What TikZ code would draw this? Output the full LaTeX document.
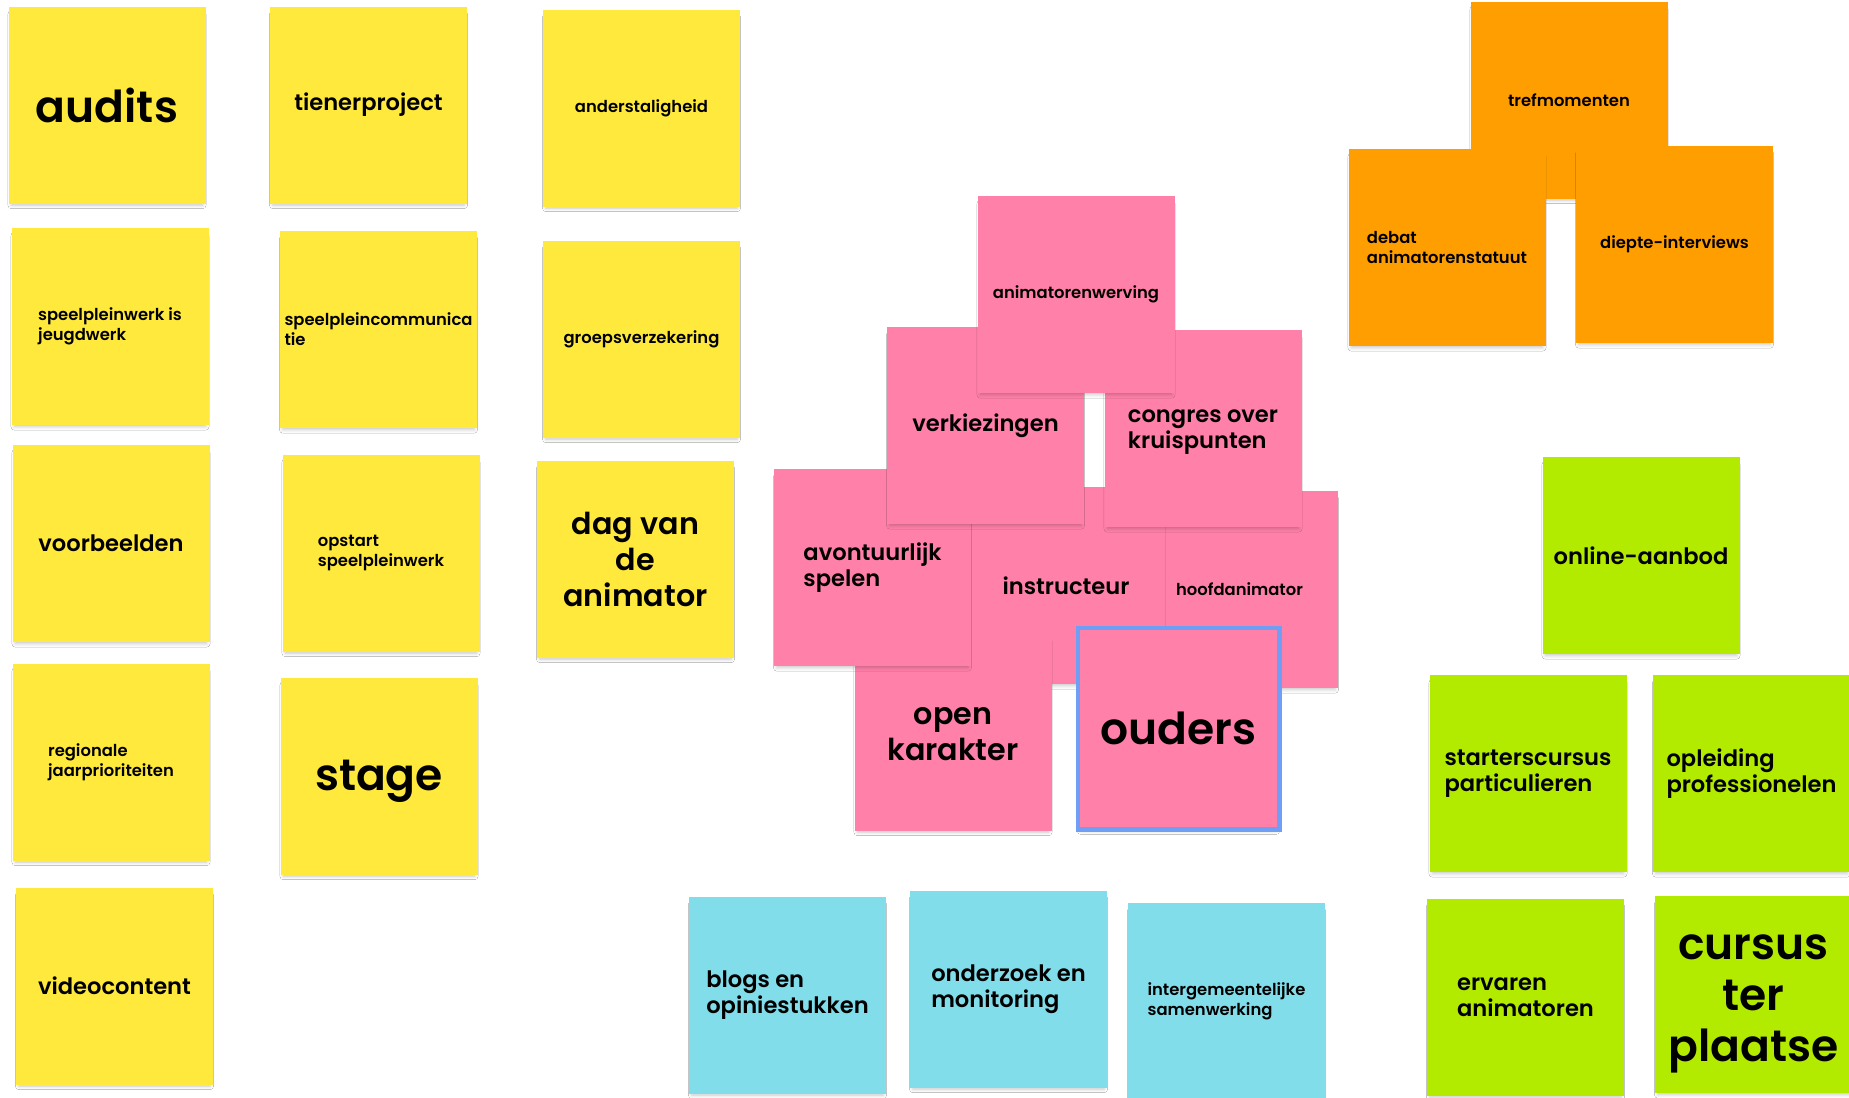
\documentclass[tikz,border=0pt]{standalone}
\usepackage{fontspec}
\setmainfont{Poppins}[BoldFont={Poppins SemiBold}]
\usetikzlibrary{shadows.blur}

\definecolor{noteyellow}{HTML}{FFE93D}
\definecolor{notepink}{HTML}{FF80A9}
\definecolor{noteorange}{HTML}{FF9E00}
\definecolor{notegreen}{HTML}{B2EA00}
\definecolor{notecyan}{HTML}{80DDE9}
\definecolor{selblue}{HTML}{6E9FF5}

\newcommand\txtS{\fontsize{8.2}{10}\selectfont}
\newcommand\txtM{\fontsize{11.3}{13}\selectfont}
\newcommand\txtL{\fontsize{15.1}{18}\selectfont}
\newcommand\txtXL{\fontsize{22}{25.5}\selectfont}

\tikzset{
  sticky/.style={rectangle,minimum width=98.5pt,minimum height=98.5pt,inner sep=0pt,
    align=left,text=black,font=\bfseries,
    blur shadow={shadow xshift=0pt,shadow yshift=-2.4pt,shadow scale=.97,
      shadow blur radius=1.8pt,shadow opacity=22}},
  yel/.style={sticky,fill=noteyellow},
  pnk/.style={sticky,fill=notepink},
  org/.style={sticky,fill=noteorange},
  grn/.style={sticky,fill=notegreen},
  cyn/.style={sticky,fill=notecyan},
  small/.style={font=\bfseries\txtS},
  mid/.style={font=\bfseries\txtM},
  big/.style={font=\bfseries\txtL,align=center},
  huge/.style={font=\bfseries\txtXL,align=center}
}

\begin{document}
\begin{tikzpicture}[x=0.5pt,y=-0.5pt]
 \useasboundingbox (0,0) rectangle (1849,1098);
 \fill[white] (0,0) rectangle (1849,1098);

 % yellow column block
 \node[yel,huge] (audits) at (107,105) {audits};
 \node[yel,mid] (tiener) at (368.5,105) {tienerproject};
 \node[yel,small] (anderstalig) at (641.5,108) {anderstaligheid};
 \node[yel,small] (jeugdwerk) at (110,326.5) {speelpleinwerk is\\jeugdwerk};
 \node[yel,small] (communicatie) at (378.5,329.5) {speelpleincommunica\\tie};
 \node[yel,small] (verzekering) at (641.5,339) {groepsverzekering};
 \node[yel,mid] (voorbeelden) at (111,543.5) {voorbeelden};
 \node[yel,small] (opstart) at (381,553) {opstart\\speelpleinwerk};
 \node[yel,big] (dagvan) at (635.5,559) {dag van\\de\\animator};
 \node[yel,small] (regionaal) at (111,762) {regionale\\jaarprioriteiten};
 \node[yel,label={[huge,yshift=-2.4pt]center:stage}] (stage) at (379,776) {};
 \node[yel,mid] (video) at (114.5,986) {videocontent};

 % pink pile, back to front
 \node[pnk,small] (hoofdanim) at (1239.5,589.5) {hoofdanimator};
 \node[pnk,mid] (instructeur) at (1066,585.5) {instructeur};
 \node[pnk,label={[big,yshift=-1.2pt]center:open\\karakter}] (openkar) at (953,732) {};
 \node[pnk,mid] (avontuur) at (872.5,567.5) {avontuurlijk\\spelen};
 \node[pnk,mid] (verkiezing) at (985.5,425.5) {verkiezingen};
 \node[pnk,label={[mid,align=left,yshift=-2pt]center:congres over\\kruispunten}] (congres) at (1203,428.5) {};
 \node[pnk,small] (werving) at (1076,294.5) {animatorenwerving};
 \node[pnk,huge,draw=selblue,line width=2.25pt,minimum width=100.75pt,minimum height=100.75pt]
   (ouders) at (1178.5,728.5) {ouders};

 % orange
 \node[org,small] (tref) at (1569,100) {trefmomenten};
 \node[org,small] (debat) at (1447,247.5) {debat\\animatorenstatuut};
 \node[org,small] (diepte) at (1674.5,244.5) {diepte-interviews};

 % green
 \node[grn,mid] (online) at (1641,555.5) {online-aanbod};
 \node[grn,mid] (starters) at (1528,773.5) {starterscursus\\particulieren};
 \node[grn,mid] (opleiding) at (1751.5,773.5) {opleiding\\professionelen};
 \node[grn,mid] (ervaren) at (1525.5,997) {ervaren\\animatoren};
 \node[grn,label={[huge,yshift=-4.5pt]center:cursus\\ter\\plaatse}] (cursus) at (1753.5,994.5) {};

 % cyan
 \node[cyn,mid] (blogs) at (787.5,995) {blogs en\\opiniestukken};
 \node[cyn,mid] (onderzoek) at (1008.5,989) {onderzoek en\\monitoring};
 \node[cyn,small] (intergem) at (1226.5,1001.5) {intergemeentelijke\\samenwerking};
\end{tikzpicture}
\end{document}
